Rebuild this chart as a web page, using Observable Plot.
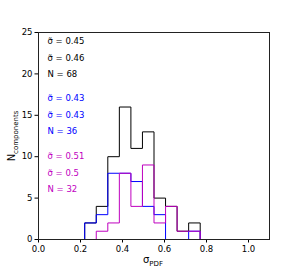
<!DOCTYPE html>
<html>
<head>
<meta charset="utf-8">
<script src="https://cdn.jsdelivr.net/npm/d3@7"></script>
<script src="https://cdn.jsdelivr.net/npm/@observablehq/plot@0.6"></script>
<style>
  html, body { margin: 0; padding: 0; background: #fff; }
  #chart { width: 299px; height: 269px; }
</style>
</head>
<body>
<div id="chart"></div>
<script>
// Bin edges (sigma_PDF), 20 bins from 0 to 1.1
const binEdges = [0, 0.055, 0.11, 0.165, 0.22, 0.275, 0.33, 0.385, 0.44, 0.495, 0.55,
                  0.605, 0.66, 0.715, 0.77, 0.825, 0.88, 0.935, 0.99, 1.045, 1.1];
// Counts per bin
const countsAll     = [0, 0, 0, 0, 2, 4, 10, 16, 11, 13, 5, 4, 1, 2, 0, 0, 0, 0, 0, 0];
const countsBlue    = [0, 0, 0, 0, 2, 3, 8, 8, 7, 4, 3, 0, 0, 1, 0, 0, 0, 0, 0, 0];
const countsMagenta = [0, 0, 0, 0, 0, 1, 2, 8, 4, 9, 2, 4, 1, 1, 0, 0, 0, 0, 0, 0];

// Annotations
const noteLabels = ["σ̃ = 0.45", "σ̃ = 0.46", "N = 68",
                    "σ̃ = 0.43", "σ̃ = 0.43", "N = 36",
                    "σ̃ = 0.51", "σ̃ = 0.5", "N = 32"];
const noteY = [23.9, 21.9, 20, 17, 15, 13.05, 10, 8, 6.05];
const noteColors = ["black", "black", "black", "blue", "blue", "blue", "#bf00bf", "#bf00bf", "#bf00bf"];

const xTicks = [0, 0.2, 0.4, 0.6, 0.8, 1.0];
const yTicks = [0, 5, 10, 15, 20, 25];

function stepData(counts) {
  const pts = counts.map((c, i) => ({x: binEdges[i], y: c}));
  pts.push({x: binEdges[binEdges.length - 1], y: counts[counts.length - 1]});
  return pts;
}

const notes = noteLabels.map((t, i) => ({t, y: noteY[i], c: noteColors[i]}));

const font = "'DejaVu Sans', sans-serif";

const plot = Plot.plot({
  width: 299,
  height: 269,
  marginLeft: 38,
  marginRight: 30,
  marginTop: 32,
  marginBottom: 30,
  style: {fontFamily: font, fontSize: "8.5px", background: "white", color: "black"},
  x: {domain: [0, 1.1], label: null},
  y: {domain: [0, 25], label: null},
  marks: [
    Plot.lineY(stepData(countsAll), {x: "x", y: "y", curve: "step-after", stroke: "black", strokeWidth: 1}),
    Plot.lineY(stepData(countsBlue), {x: "x", y: "y", curve: "step-after", stroke: "blue", strokeWidth: 1}),
    Plot.lineY(stepData(countsMagenta), {x: "x", y: "y", curve: "step-after", stroke: "#bf00bf", strokeWidth: 1}),
    Plot.text(notes, {x: 0.043, y: "y", text: "t", fill: "c", textAnchor: "start", fontSize: 8.5}),
    Plot.axisX({ticks: xTicks, tickSize: 3.5, tickPadding: 2.5, tickFormat: d3.format(".1f"), label: null, fontSize: 8.5}),
    Plot.axisY({ticks: yTicks, tickSize: 3.5, tickPadding: 2.5, label: null, fontSize: 8.5}),
    Plot.frame({stroke: "#222", strokeWidth: 1})
  ]
});

const svg = d3.select(plot);
// Y axis label with subscript
const yl = svg.append("text")
  .attr("transform", "translate(15,136) rotate(-90)")
  .attr("text-anchor", "middle")
  .attr("font-family", font)
  .attr("font-size", 10)
  .attr("fill", "black");
yl.append("tspan").text("N");
yl.append("tspan").attr("font-size", 7).attr("dy", 2.5).text("components");

// X axis label with subscript
const xl = svg.append("text")
  .attr("x", 153)
  .attr("y", 263)
  .attr("text-anchor", "middle")
  .attr("font-family", font)
  .attr("font-size", 10)
  .attr("fill", "black");
xl.append("tspan").text("σ");
xl.append("tspan").attr("font-size", 7).attr("dy", 2.5).text("PDF");

document.getElementById("chart").appendChild(plot);
</script>
</body>
</html>
